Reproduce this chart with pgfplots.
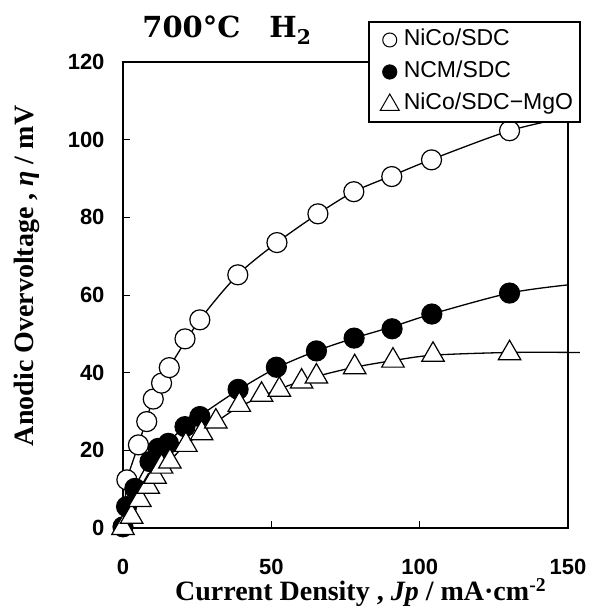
\documentclass[border=0pt]{standalone}
\usepackage{fontspec}
\setmainfont{Liberation Sans}
\newfontfamily\labfont{Liberation Serif}
\newfontfamily\titfont{DejaVu Serif}
\usepackage{pgfplots}
\pgfplotsset{compat=1.18}

\begin{document}
\begin{tikzpicture}
% page = 598 x 608 px, axis box south west at (0,0)
\useasboundingbox (-123bp,-80bp) rectangle (475bp,528bp);
\begin{axis}[
    scale only axis,
    width=445bp, height=466bp,
    xmin=0, xmax=150, ymin=0, ymax=120,
    xtick={0,50,100,150},
    ytick={0,20,...,120},
    tick align=inside,
    xtick pos=bottom, ytick pos=left,
    major tick length=7bp,
    tick style={line width=0.8bp, black},
    axis line style={line width=2.6bp},
    /pgf/number format/assume math mode=true,
    ticklabel style={font=\fontsize{22bp}{24bp}\selectfont\bfseries},
    xticklabel style={yshift=-28bp},
    yticklabel style={xshift=-15bp},
    xlabel={Current Density , \textit{Jp} / mA·cm\textsuperscript{-2}},
    ylabel={Anodic Overvoltage , \textit{η} / mV},
    label style={font=\fontsize{28bp}{30bp}\labfont\bfseries},
    xlabel style={at={(axis description cs:0.534,-0.155)}, anchor=base},
    ylabel style={at={(axis description cs:-0.2,0.541)}, anchor=base},
    clip=false,
    legend cell align=left,
    legend style={
        at={(axis description cs:0.55,1.088)}, anchor=north west,
        draw=black, line width=2bp, fill=white,
        font=\fontsize{23bp}{25bp}\selectfont,
        inner xsep=5bp, inner ysep=5bp, row sep=6bp,
        nodes={inner sep=2bp, text height=17bp, text depth=5bp}
    },
]
  % fitted curves
  \addplot[black, line width=1.3bp, smooth, forget plot] coordinates {
    (0,0) (0.8,8) (1.3,12.4) (5.2,21.4) (10.2,33.2) (15.6,41.3) (25.9,53.6)
    (38.7,65.2) (51.9,73.5) (65.7,80.9) (77.8,86.6) (90.6,90.7)
    (104,94.9) (130.3,102.3) (150,105.8)};
  \addplot[black, line width=1.3bp, smooth, forget plot] coordinates {
    (0,0) (4,10.2) (9.1,17.3) (15.3,22.2) (20.9,26.1) (25.9,28.9)
    (38.8,35.5) (51.7,41.2) (65.2,45.6) (77.9,48.9) (90.7,51.8)
    (104.1,55.1) (130.3,60.5) (150,62.6)};
  \addplot[black, line width=1.3bp, smooth, forget plot] coordinates {
    (0,0) (5.7,7.2) (10.8,13.2) (15.8,17.3) (21.2,21.4) (31.3,27.2)
    (39.2,31.2) (52.7,35.8) (65.2,39.0) (78.1,41.4) (91,43.1)
    (104.5,44.5) (130.3,45.2) (154,45.2)};

  % NiCo/SDC
  \addplot[only marks, mark=*, mark size=10bp,
    mark options={draw=black, fill=white, line width=1.2bp},
    legend image code/.code={
      \path[draw=none, fill=none] (0bp,-8bp) rectangle (28bp,8bp);
      \draw[mark=*, mark size=7bp,
      mark options={draw=black, fill=white, line width=1bp}]
      plot coordinates {(16bp,0bp)};}] coordinates {
    (1.3,12.4) (5.2,21.4) (8,27.4) (10.2,33.2) (13,37.3)
    (15.6,41.3) (20.9,48.7) (25.9,53.6) (38.7,65.2) (51.9,73.5)
    (65.7,80.9) (77.8,86.6) (90.6,90.5) (104,94.8) (130.3,102.3)};
  % NCM/SDC
  \addplot[only marks, mark=*, mark size=10bp,
    mark options={draw=black, fill=black, line width=1.2bp},
    legend image code/.code={
      \path[draw=none, fill=none] (0bp,-8bp) rectangle (28bp,8bp);
      \draw[mark=*, mark size=7.3bp,
      mark options={draw=black, fill=black, line width=0.5bp}]
      plot coordinates {(16bp,0bp)};}] coordinates {
    (0,0.3) (1.2,5.5) (4,10.2) (9.1,17.1) (11.9,20.5) (15.3,21.8)
    (20.9,26.1) (25.9,28.7) (38.8,35.7) (51.7,41.4) (65.2,45.6)
    (77.9,48.9) (90.7,51.3) (104.1,55.1) (130.3,60.5)};
  % NiCo/SDC-MgO
  \addplot[only marks, mark=triangle*, mark size=13bp,
    mark options={draw=black, fill=white, line width=1.2bp},
    legend image code/.code={
      \path[draw=none, fill=none] (0bp,-8bp) rectangle (28bp,8bp);
      \draw[mark=triangle*, mark size=11bp,
      mark options={draw=black, fill=white, line width=1bp}]
      plot coordinates {(16bp,-1bp)};}] coordinates {
    (0,0) (2.9,2.9) (5.7,7.2) (8.5,10.6) (10.8,13.2) (13,15.8)
    (15.8,17.1) (21.2,21.4) (26.5,24.4) (31.3,27.4) (39.2,31.7)
    (46.7,34.3) (52.7,35.6) (60.2,37.7) (65.2,39.0) (78.1,41.4)
    (91,43.1) (104.5,44.6) (130.3,45.0)};

  \legend{NiCo/SDC, NCM/SDC, NiCo/SDC−MgO}

  \node[anchor=base west, inner sep=0pt,
        font=\fontsize{29bp}{31bp}\titfont\bfseries]
    at (rel axis cs:0.043,1.052) {700°C\quad H\textsubscript{2}};
\end{axis}
\end{tikzpicture}
\end{document}
